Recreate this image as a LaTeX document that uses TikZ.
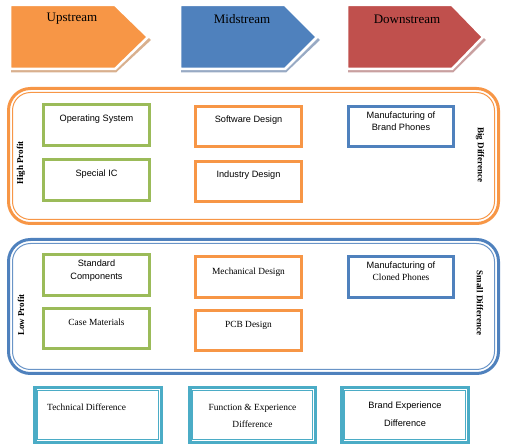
\documentclass[tikz,border=0pt]{standalone}
\usepackage{fontspec}
\setmainfont{Liberation Serif}
\newfontfamily\arialf{Liberation Sans}
\definecolor{cOrange}{HTML}{F79646}
\definecolor{cBlue}{HTML}{4F81BD}
\definecolor{cRed}{HTML}{C0504D}
\definecolor{cGreen}{HTML}{9BBB59}
\definecolor{cTeal}{HTML}{4BACC6}
\definecolor{shOrange}{HTML}{D9B08E}
\definecolor{shBlue}{HTML}{98AAC4}
\definecolor{shRed}{HTML}{C9A0A0}
\tikzset{
  boxbase/.style={draw, line width=3pt, fill=white, inner sep=0pt, minimum width=106pt},
  gbox/.style={boxbase, draw=cGreen, minimum height=41pt},
  obox/.style={boxbase, draw=cOrange, minimum height=40pt},
  bbox/.style={boxbase, draw=cBlue, minimum width=105pt, minimum height=40pt},
  sans/.style={font=\arialf\fontsize{9.2}{10.5}\selectfont, inner sep=0pt, align=center},
  serif/.style={font=\fontsize{9.4}{10.5}\selectfont, inner sep=0pt, align=center},
  side/.style={font=\bfseries\fontsize{9}{10}\selectfont, inner sep=0pt},
  head/.style={font=\fontsize{13}{15}\selectfont, inner sep=0pt},
}
\begin{document}
\begin{tikzpicture}[x=1pt,y=-1pt]
\useasboundingbox (0,0) rectangle (509,446);
% chevrons
\foreach \l/\a/\t/\f/\s in {10/115/148/cOrange/shOrange, 180/285/317/cBlue/shBlue, 347/452/483/cRed/shRed}{
  \fill[\s] (\l+1,9) -- (\a+1,9) -- (\t+3,40) -- (\a+1,72.5) -- (\l+1,72.5) -- cycle;
  \draw[white, line width=2.5pt, fill=\f] (\l,5) -- (\a,5) -- (\t,37) -- (\a,69) -- (\l,69) -- cycle;
}
\node[head] (up) at (72,19) {Upstream};
\node[head] (mid) at (242,19) {Midstream};
\node[head] (down) at (407,19) {Downstream};
% containers
\draw[cOrange, line width=3pt, rounded corners=22pt] (8.5,88.5) rectangle (498.5,223.5);
\draw[cOrange, line width=1pt, rounded corners=18pt] (12.5,92.5) rectangle (494.5,219.5);
\draw[cBlue, line width=3pt, rounded corners=22pt] (8.5,239.5) rectangle (498.5,373.5);
\draw[cBlue!85, line width=1pt, rounded corners=18pt] (12.5,243.5) rectangle (494.5,369.5);
% high profit row boxes
\node[gbox] (os) at (96.5,125) {};
\node[sans, anchor=base] (ost) at (96.5,122) {Operating System};
\node[gbox] (ic) at (96.5,180) {};
\node[sans, anchor=base] (ict) at (96.5,177) {Special IC};
\node[obox] (sd) at (248.5,126.5) {};
\node[sans, anchor=base] (sdt) at (248.5,123) {Software Design};
\node[obox] (id) at (248.5,181.5) {};
\node[sans, anchor=base] (idt) at (248.5,178) {Industry Design};
\node[bbox] (br) at (401,126.5) {};
\node[sans, anchor=base] (brt1) at (401,119) {Manufacturing of};
\node[sans, anchor=base] (brt2) at (401,131) {Brand Phones};
% low profit row boxes
\node[gbox] (sc) at (96.5,275) {};
\node[sans, anchor=base] (sct1) at (96.5,267) {Standard};
\node[sans, anchor=base] (sct2) at (96.5,280) {Components};
\node[gbox, minimum height=40pt] (cm) at (96.5,328.5) {};
\node[serif, anchor=base] (cmt) at (96.5,326) {Case Materials};
\node[obox, minimum height=41pt] (md) at (248.5,277) {};
\node[serif, anchor=base] (mdt) at (248.5,275) {Mechanical Design};
\node[obox] (pcb) at (248.5,330.5) {};
\node[serif, anchor=base] (pcbt) at (248.5,328) {PCB Design};
\node[bbox, minimum height=41pt] (cl) at (401,277) {};
\node[sans, anchor=base] (clt1) at (401,269) {Manufacturing of};
\node[serif, anchor=base] (clt2) at (401,281) {Cloned Phones};
% side labels
\node[side, rotate=90] (hp) at (21,163) {High Profit};
\node[side, rotate=-90] (bd) at (480,155) {Big Difference};
\node[side, rotate=90] (lp) at (21,315) {Low Profit};
\node[side, rotate=-90] (smd) at (480,303) {Small Difference};
% bottom boxes
\foreach \n/\l/\r in {td/33/163, fe/188/317, be/340/470}{
  \draw[cTeal, line width=3.5pt] (\l+1.75,387.75) rectangle (\r-1.75,442.25);
  \draw[cTeal, line width=0.9pt] (\l+4.6,390.6) rectangle (\r-4.6,439.4);
  \coordinate (\n) at ({(\l+\r)/2},415);
}
\node[serif, anchor=base west] (tdt) at (47,410) {Technical Difference};
\node[serif, anchor=base] (fet1) at (252.5,410) {Function \& Experience};
\node[serif, anchor=base] (fet2) at (252.5,428) {Difference};
\node[sans, anchor=base] (bet1) at (405,409) {Brand Experience};
\node[sans, anchor=base] (bet2) at (405,427) {Difference};
\end{tikzpicture}
\end{document}
